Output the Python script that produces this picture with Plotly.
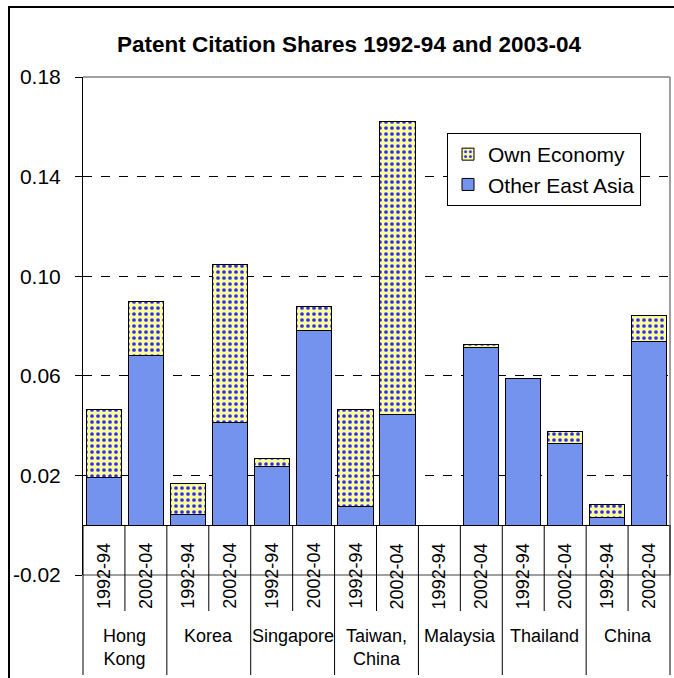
import plotly.graph_objects as go

# ---- data ----
countries = ["Hong<br>Kong", "Korea", "Singapore", "Taiwan,<br>China", "Malaysia", "Thailand", "China"]
periods = ["1992-94", "2002-04"]
other_east_asia = [0.0193, 0.0682, 0.0045, 0.0414, 0.0237, 0.0780, 0.0077, 0.0446,
                   0.0, 0.0712, 0.0588, 0.0330, 0.0030, 0.0736]
own_economy = [0.0272, 0.0218, 0.0124, 0.0633, 0.0031, 0.0100, 0.0387, 0.1176,
               0.0, 0.0013, 0.0, 0.0048, 0.0054, 0.0107]
y_ticks = [-0.02, 0.02, 0.06, 0.10, 0.14, 0.18]

FONT = "Liberation Sans, Arial, sans-serif"

cats = [f"{c.replace('<br>', ' ')} {p}" for c in countries for p in periods]
period_of_cat = [p for c in countries for p in periods]
n = len(cats)

fig = go.Figure()
fig.add_trace(go.Bar(
    x=cats, y=other_east_asia, name="Other East Asia",
    marker=dict(color="#7393EE", line=dict(color="black", width=1)),
))
fig.add_trace(go.Bar(
    x=cats, y=own_economy, name="Own Economy",
    marker=dict(color="#FFFF99", line=dict(color="black", width=1),
                pattern=dict(shape=".", fgcolor="#2B2BFF", bgcolor="#FFFF99",
                             size=6, solidity=0.3, fillmode="replace")),
))

W, H = 674, 678
L, R, T, B = 83, 4, 77, 103
plot_h = H - T - B
ymin, ymax = -0.02, 0.18
zero_frac = (0 - ymin) / (ymax - ymin)

def py_to_paper(py):
    return (H - B - py) / plot_h

shapes = []
# plot-area border (top, right, bottom) in gray
for (x0, y0, x1, y1) in [(0, 1, 1, 1), (1, 0, 1, 1), (0, 0, 1, 0)]:
    shapes.append(dict(type="line", xref="x domain", yref="y domain",
                       x0=x0, y0=y0, x1=x1, y1=y1,
                       line=dict(color="#808080", width=1.5)))
# category separators
inner_bottom = py_to_paper(611)
group_bottom = py_to_paper(675)
for k in range(n + 1):
    yb = group_bottom if k % 2 == 0 else inner_bottom
    shapes.append(dict(type="line", xref="x domain", yref="paper",
                       x0=k / n, x1=k / n, y0=zero_frac, y1=yb,
                       line=dict(color="black", width=1)))
# outer chart border
lx = (9 - L) / (W - L - R)
ty = py_to_paper(7)
shapes.append(dict(type="rect", xref="paper", yref="paper",
                   x0=lx, x1=1.05, y0=-0.3, y1=ty,
                   line=dict(color="black", width=2)))

annotations = []
for i, cat in enumerate(cats):
    annotations.append(dict(x=cat, xref="x", y=inner_bottom, yref="paper",
                            text=period_of_cat[i], textangle=-90, showarrow=False,
                            xanchor="center", yanchor="bottom",
                            font=dict(family=FONT, size=18, color="black")))
for j, c in enumerate(countries):
    annotations.append(dict(x=2 * j + 0.5, xref="x", y=py_to_paper(624), yref="paper",
                            text=c, showarrow=False, xanchor="center", yanchor="top",
                            font=dict(family=FONT, size=18, color="black")))

fig.update_layout(
    width=W, height=H,
    margin=dict(l=L, r=R, t=T, b=B),
    paper_bgcolor="white", plot_bgcolor="white",
    barmode="stack", bargap=0.16,
    font=dict(family=FONT, color="black"),
    title=dict(text="<b>Patent Citation Shares 1992-94 and 2003-04</b>",
               x=349 / W, xanchor="center", xref="container",
               y=1 - 44 / H, yanchor="middle", yref="container",
               font=dict(family=FONT, size=22.5, color="black")),
    xaxis=dict(type="category", range=[-0.5, n - 0.5], showticklabels=False,
               showgrid=False, showline=True, linecolor="black", linewidth=1,
               anchor="free", position=zero_frac, ticks="", zeroline=False,
               fixedrange=True),
    yaxis=dict(range=[ymin, ymax], tickvals=y_ticks,
               ticktext=[f"{v:.2f}" for v in y_ticks],
               showgrid=True, gridcolor="black", griddash="dash", gridwidth=1,
               showline=True, linecolor="black", linewidth=1,
               ticks="outside", ticklen=7, tickcolor="black",
               ticklabelstandoff=10, zeroline=False,
               tickfont=dict(family=FONT, size=21, color="black")),
    legend=dict(x=(447 - L) / (W - L - R), y=py_to_paper(133),
                xanchor="left", yanchor="top",
                bordercolor="black", borderwidth=1, bgcolor="white",
                traceorder="reversed",
                font=dict(family=FONT, size=21, color="black")),
    shapes=shapes, annotations=annotations,
    showlegend=True,
)

fig.write_html("out.html",
               config={"displayModeBar": False},
               post_script="document.body.style.margin='0';document.body.style.overflow='hidden';")
